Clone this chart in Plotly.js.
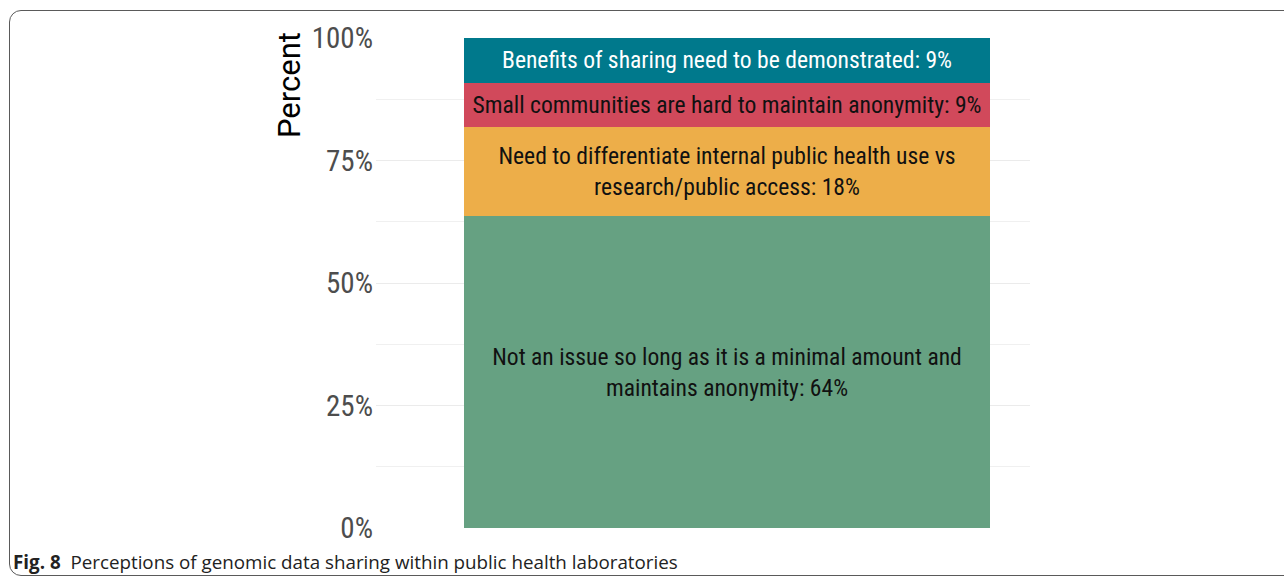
<!DOCTYPE html>
<html>
<head>
<meta charset="utf-8">
<script src="https://cdn.plot.ly/plotly-3.0.1.min.js"></script>
<style>
  html, body { margin:0; padding:0; background:#fff; }
  #wrap { position:relative; width:1284px; height:580px; overflow:hidden; }
  #frame { position:absolute; left:9px; top:10px; width:1300px; height:566px;
           border:1.5px solid #5a5a5a; border-radius:12px; box-sizing:border-box; }
  #chart { position:absolute; left:0; top:0; width:1284px; height:580px; }
</style>
</head>
<body>
<div id="wrap">
  <div id="frame"></div>
  <div id="chart"></div>
</div>
<script>
// Data
const categories = [
  "Not an issue so long as it is a minimal amount and<br>maintains anonymity",
  "Need to differentiate internal public health use vs<br>research/public access",
  "Small communities are hard to maintain anonymity",
  "Benefits of sharing need to be demonstrated"
];
const percents = [63.6, 18.2, 9.1, 9.1];
const shownPct = ["64%", "18%", "9%", "9%"];
const colors = ["#66a182", "#edae49", "#d1495b", "#00798c"];
const textColors = ["#111111", "#111111", "#111111", "#ffffff"];
const yTicks = [0, 25, 50, 75, 100];
const yTickLabels = ["0%", "25%", "50%", "75%", "100%"];

const condensed = "'Roboto Condensed', 'Liberation Sans Narrow', 'DejaVu Sans Condensed', Roboto, sans-serif";

const traces = categories.map((c, i) => ({
  type: "bar",
  x: [0],
  y: [percents[i]],
  width: [1],
  marker: { color: colors[i], line: { width: 0 } },
  text: [c + ": " + shownPct[i]],
  textposition: "inside",
  insidetextanchor: "middle",
  textangle: 0,
  constraintext: "none",
  textfont: { family: condensed, size: 23.6, color: textColors[i] },
  hoverinfo: "skip",
  showlegend: false
}));

const W = 1284, H = 580;
const L = 376, R = 1030, T = 38, B = 528;
const px2x = p => (p - L) / (R - L);
const px2y = p => (B - p) / (B - T);

const layout = {
  width: W, height: H,
  margin: { l: L, r: W - R, t: T, b: H - B, pad: 0 },
  paper_bgcolor: "rgba(0,0,0,0)",
  plot_bgcolor: "rgba(0,0,0,0)",
  barmode: "stack",
  bargap: 0,
  xaxis: {
    range: [-0.5 - 88/526, 0.5 + 40/526],
    showgrid: false, zeroline: false, showticklabels: false, ticks: "", showline: false, fixedrange: true
  },
  yaxis: {
    range: [0, 100],
    tickvals: yTicks, ticktext: yTickLabels,
    showgrid: true, gridcolor: "#ebebeb", gridwidth: 1,
    minor: { dtick: 12.5, tick0: 0, showgrid: true, gridcolor: "#f0f0f0", gridwidth: 1 },
    zeroline: false, showline: false, ticks: "",
    ticklabelstandoff: 2,
    tickfont: { family: condensed, size: 29, color: "#4d4d4d" },
    fixedrange: true
  },
  annotations: [
    {
      text: "Percent", xref: "paper", yref: "paper",
      x: px2x(289), y: px2y(85), xanchor: "center", yanchor: "middle",
      textangle: -90, showarrow: false,
      font: { family: "Roboto, sans-serif", size: 31, color: "#000" }
    },
    {
      text: "<b>Fig. 8</b>  Perceptions of genomic data sharing within public health laboratories",
      xref: "paper", yref: "paper",
      x: px2x(11), y: px2y(562), xanchor: "left", yanchor: "middle",
      showarrow: false,
      font: { family: "'Open Sans', sans-serif", size: 18.8, color: "#222" }
    }
  ]
};

Plotly.newPlot("chart", traces, layout, { displayModeBar: false, staticPlot: true });
</script>
</body>
</html>
